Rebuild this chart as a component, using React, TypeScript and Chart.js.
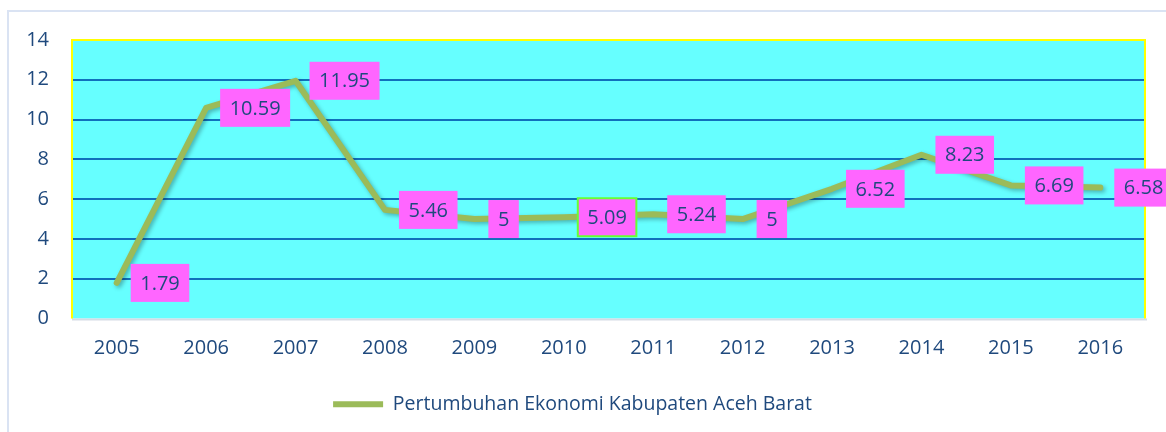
import React, { useEffect, useRef } from 'react';
import { Chart, registerables } from 'chart.js';

Chart.register(...registerables);

const categories = ['2005', '2006', '2007', '2008', '2009', '2010', '2011', '2012', '2013', '2014', '2015', '2016'];
const growth = [1.79, 10.59, 11.95, 5.46, 5, 5.09, 5.24, 5, 6.52, 8.23, 6.69, 6.58];
const seriesLabel = 'Pertumbuhan Ekonomi Kabupaten Aceh Barat';
const yTicks = [0, 2, 4, 6, 8, 10, 12, 14];
const highlightedLabel = 5;

const FONT = '"Open Sans", sans-serif';
const TEXT = '#1F497D';

export default function App() {
  const ref = useRef<HTMLCanvasElement | null>(null);

  useEffect(() => {
    if (!ref.current) return;

    const decor = {
      id: 'decor',
      beforeDraw(chart: any) {
        const { ctx, chartArea: a } = chart;
        ctx.save();
        ctx.fillStyle = '#DAE3F3';
        ctx.fillRect(7, 10, 1200, 2);
        ctx.fillRect(7, 10, 2, 500);
        ctx.fillStyle = '#66FFFF';
        ctx.fillRect(a.left, a.top, a.right - a.left, a.bottom - a.top);
        ctx.restore();
      },
      beforeDatasetsDraw(chart: any) {
        const { ctx, chartArea: a } = chart;
        ctx.save();
        ctx.fillStyle = '#D6DCE5';
        ctx.fillRect(a.left, a.bottom, a.right - a.left + 2, 2);
        ctx.fillStyle = '#FFFF00';
        ctx.fillRect(a.left - 1, a.top - 1, 2, a.bottom - a.top + 1);
        ctx.fillRect(a.left - 1, a.top - 1, a.right - a.left + 2, 2);
        ctx.fillRect(a.right - 1, a.top - 1, 2, a.bottom - a.top + 1);
        ctx.restore();
      },
      beforeDatasetDraw(chart: any) {
        const ctx = chart.ctx;
        ctx.save();
        ctx.shadowColor = 'rgba(0,0,0,0.3)';
        ctx.shadowBlur = 4;
        ctx.shadowOffsetX = 2;
        ctx.shadowOffsetY = 2;
      },
      afterDatasetDraw(chart: any) {
        chart.ctx.restore();
      },
      afterDatasetsDraw(chart: any) {
        const { ctx } = chart;
        const meta = chart.getDatasetMeta(0);
        ctx.save();
        ctx.font = `20px ${FONT}`;
        ctx.textBaseline = 'middle';
        ctx.textAlign = 'left';
        meta.data.forEach((pt: any, i: number) => {
          const text = String(growth[i]);
          const w = ctx.measureText(text).width + 19;
          const h = 38;
          const left = pt.x + 14;
          const top = pt.y - h / 2;
          ctx.fillStyle = '#FF66FF';
          ctx.fillRect(left, top, w, h);
          if (i === highlightedLabel) {
            ctx.strokeStyle = '#66FF33';
            ctx.lineWidth = 2;
            ctx.strokeRect(left, top, w, h);
          }
          ctx.fillStyle = TEXT;
          ctx.fillText(text, left + 9.5, pt.y + 1);
        });
        ctx.restore();
      },
    };

    const chart = new Chart(ref.current, {
      type: 'line',
      data: {
        labels: categories,
        datasets: [
          {
            label: seriesLabel,
            data: growth,
            borderColor: '#9BBB59',
            backgroundColor: '#9BBB59',
            borderWidth: 6,
            pointRadius: 0,
            pointHoverRadius: 0,
            tension: 0,
            fill: false,
            borderJoinStyle: 'round',
            borderCapStyle: 'round',
          },
        ],
      },
      options: {
        responsive: false,
        animation: false,
        devicePixelRatio: 1,
        layout: { padding: { top: 40, left: 0, right: 21, bottom: 8 } },
        plugins: {
          tooltip: { enabled: false },
          legend: {
            position: 'bottom',
            labels: {
              usePointStyle: true,
              pointStyle: 'line',
              pointStyleWidth: 50,
              color: TEXT,
              font: { family: FONT, size: 19.5 },
              padding: 16,
            },
          },
        },
        scales: {
          x: {
            offset: true,
            grid: { display: false, offset: true },
            border: { display: false },
            ticks: { color: TEXT, font: { family: FONT, size: 20 }, padding: 10, maxRotation: 0 },
            afterFit: (s: any) => {
              s.height = 60;
            },
          },
          y: {
            min: 0,
            max: 14,
            afterBuildTicks: (s: any) => {
              s.ticks = yTicks.map((v) => ({ value: v }));
            },
            grid: {
              drawTicks: false,
              lineWidth: 2,
              color: (c: any) =>
                c.tick && (c.tick.value === 0 || c.tick.value === 14) ? 'rgba(0,0,0,0)' : '#1070BC',
            },
            border: { display: false },
            ticks: { color: TEXT, font: { family: FONT, size: 20 }, padding: 23 },
            afterFit: (s: any) => {
              s.width = 72;
            },
          },
        },
      },
      plugins: [decor],
    } as any);

    return () => chart.destroy();
  }, []);

  return (
    <div style={{ position: 'fixed', left: 0, top: 0, width: 1166, height: 432, background: '#fff' }}>
      <canvas ref={ref} width={1166} height={432} style={{ display: 'block' }} />
    </div>
  );
}
